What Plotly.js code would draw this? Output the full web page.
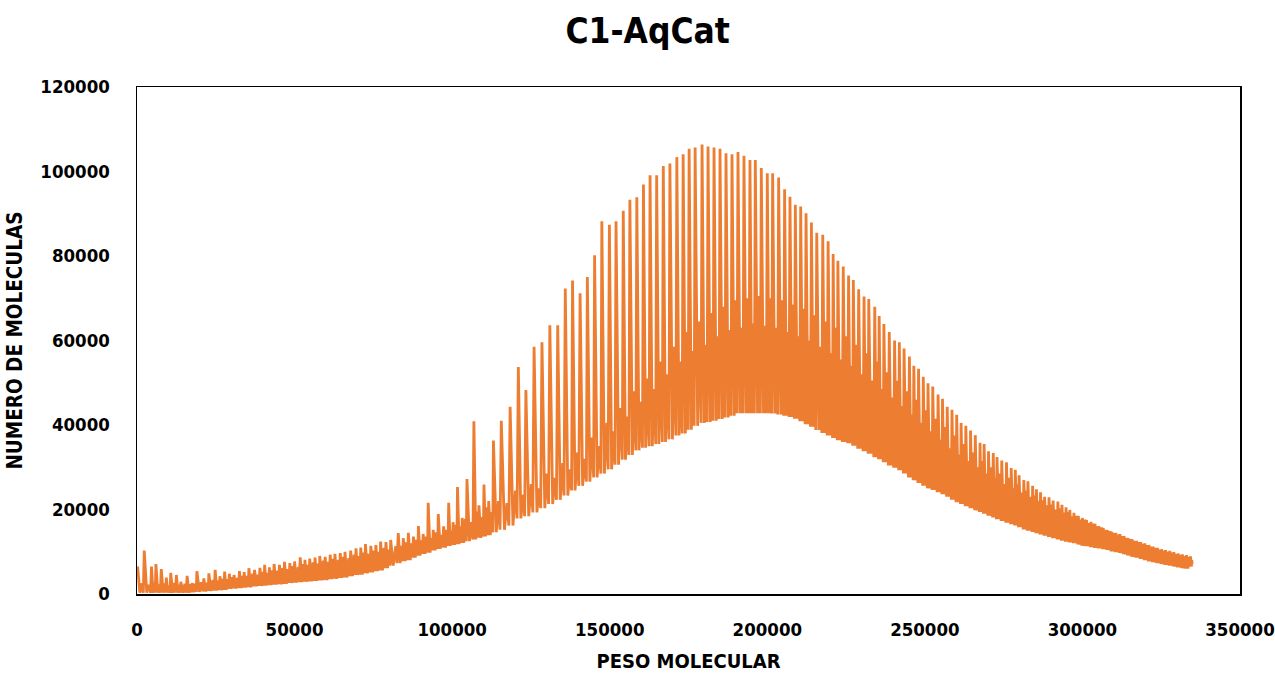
<!DOCTYPE html>
<html>
<head>
<meta charset="utf-8">
<script src="https://cdn.plot.ly/plotly-3.0.1.min.js"></script>
<style>html,body{margin:0;padding:0;background:#fff;}#chart{width:1275px;height:673px;}</style>
</head>
<body>
<div id="chart"></div>
<script>
const chartTitle = "C1-AqCat";
const xTitle = "PESO MOLECULAR";
const yTitle = "NUMERO DE MOLECULAS";
const xTicks = [0, 50000, 100000, 150000, 200000, 250000, 300000, 350000];
const yTicks = [0, 20000, 40000, 60000, 80000, 100000, 120000];

// Tops of the spikes
const peakX = [200,2300,4600,6000,7700,9300,10700,12500,13900,15900,
17500,19000,21200,22800,24800,26300,27800,29300,30800,32500,
34000,35500,37300,39000,40500,42000,43500,45200,46800,48500,
50000,51800,53300,54800,56500,58000,59700,61300,62800,64500,
66000,67800,69500,71000,72500,74200,75800,77300,79000,80500,
82900,84500,86100,87700,89300,90800,92400,94000,95600,97300,
98900,100300,101700,103200,104700,106900,108500,110100,111600,113100,
115600,118400,121000,123400,126000,128500,131000,133500,135900,138200,
140600,142900,145200,147500,149900,152000,154300,156400,158600,160700,
162800,164900,167000,169100,171300,173300,175200,177100,179300,181200,
183100,185000,186900,188800,190700,192600,194500,196200,198100,200000,
201700,203600,205500,207200,208900,210600,212300,214000,215700,217600,
219300,220900,222400,224100,225800,227300,229000,230700,232200,234100,
235500,237000,238700,240400,241900,243400,245100,246500,248000,249500,
251000,252500,254200,255600,257100,258600,260100,261500,263000,264500,
266000,267500,268800,270200,271700,272900,274400,275900,277400,278700,
279900,281400,282700,284200,285400,286700,288000,289400,290700,292200,
293500,294800,296000,297300,298700,300000,301300,302700,304000,305200,
306600,307900,309300,310600,311900,313200,314500,315800,317200,318500,
319800,321100,322400,323800,325100,326400,327700,329000,330400,331700,
333000,334300];
const peakY = [6500,10300,6500,7100,5900,3900,5000,4500,2900,4300,
2600,5400,3700,4900,5700,4200,5300,4800,4500,5400,
5200,6100,5700,6200,6900,6300,7100,6900,7600,7300,
7700,8700,8100,8400,8600,9000,8800,9300,9500,9700,
10000,10300,10800,11000,11800,11400,11600,12400,12300,12800,
14400,13200,14500,13600,16100,14200,21600,15200,18900,16000,
21600,17000,25300,18000,27200,40900,21000,25900,22000,36300,
41000,44300,53700,48300,58500,59600,63600,63600,72300,74200,
71200,75000,80200,88200,87400,88200,90700,93300,93900,96900,
99100,99100,101300,101900,103400,104100,105400,105700,106400,105900,
105700,105400,104300,104100,104600,103700,102700,102700,100800,99600,
99600,98600,95800,94000,92100,91700,90100,87900,85500,85000,
83500,80500,78900,77500,75400,74300,72100,70400,69800,68000,
65800,63900,62000,60000,59600,58100,56200,54000,53300,51400,
49900,49100,47200,46200,44300,43600,42400,40500,39800,38700,
37600,35800,35500,33800,33400,32400,31600,31200,29800,29400,
28100,27000,26700,25600,24800,24100,23000,22900,22100,21900,
21100,20500,19900,19200,18500,18000,17500,17100,16600,16100,
15600,15100,14700,14500,14200,13700,13200,12900,12600,12300,
12000,11600,11200,10900,10600,10400,10200,9900,9600,9400,
9200,8900];

// Troughs right after each spike
const valleyX = [900,3100,5100,6600,8300,9800,11300,13000,14600,16500,
18000,19800,21800,23500,25300,26800,28300,29800,31400,33000,
34500,36100,37900,39500,41000,42500,44100,45800,47400,49000,
50600,52300,53800,55400,57000,58600,60300,61800,63400,65000,
66600,68400,70000,71500,73100,74800,76300,77900,79500,81300,
83500,85100,86700,88300,89800,91400,93000,94600,96200,97900,
99400,100800,102200,103700,105500,107500,109100,110600,112100,114000,
116600,119300,121800,124300,126900,129400,131900,134300,136700,139000,
141400,143700,146000,148300,150600,152800,155000,157200,159300,161400,
163500,165600,167700,169900,172000,174000,175900,177900,180000,181900,
183800,185700,187600,189500,191400,193300,195100,196900,198800,200600,
202400,204300,206100,207800,209500,211200,212900,214600,216400,218200,
219900,221400,223000,224700,226300,227900,229600,231200,232900,234600,
236000,237600,239300,240900,242400,244000,245600,247000,248500,250000,
251500,253100,254700,256100,257600,259100,260600,262000,263500,265000,
266500,267900,269300,270700,272100,273400,274900,276400,277900,279100,
280400,281900,283200,284600,285900,287200,288500,289900,291200,292700,
294000,295200,296500,297800,299200,300500,301800,303200,304400,305700,
307100,308400,309800,311100,312400,313700,315000,316300,317700,319000,
320300,321600,322900,324300,325600,326900,328200,329500,330900,332200,
333500,334600];
const valleyY = [300,300,300,300,300,300,300,300,300,300,
400,500,600,700,800,900,1000,1200,1300,1400,
1500,1600,1800,1900,2000,2100,2200,2300,2400,2600,
2700,2800,2900,3000,3100,3200,3300,3500,3600,3800,
3900,4200,4500,4600,4900,5100,5400,5600,6100,6700,
7300,7800,8000,8600,9100,9500,9800,10300,10700,11000,
11400,11600,11800,12100,12500,12900,13300,13600,13900,14600,
15200,16200,17900,18400,19300,20300,21300,22300,23300,24500,
25600,26600,27600,28500,29500,30600,31800,32900,34000,34600,
35000,35500,36000,36600,37500,38000,38900,39800,40500,40700,
41000,41400,41800,42200,42800,42800,42800,42800,42800,42800,
42700,42500,42200,41900,41500,40900,40200,39600,38800,38100,
37500,36900,36400,36000,35700,35100,34400,33800,33200,32400,
31900,31200,30400,29900,29300,28500,27600,26900,26300,25600,
25000,24600,24100,23600,23000,22300,21700,21300,20800,20300,
19800,19400,19000,18500,18100,17700,17300,16900,16500,16200,
15800,15300,15000,14700,14400,14100,13800,13500,13200,12900,
12600,12400,12200,12000,11700,11400,11300,11100,10900,10800,
10600,10400,10100,9900,9700,9400,9100,8800,8600,8300,
8000,7700,7500,7300,7100,6900,6700,6500,6300,6100,
6000,6500];

// Secondary (smaller) spikes between the main ones
const midX = [1600,3800,5500,7100,8800,10200,11900,13400,15200,17000,
18500,20400,22200,24100,25800,27300,28800,30300,31900,33500,
35000,36700,38400,40000,41500,43000,44600,46200,47900,49500,
51200,52800,54300,55900,57500,59100,60700,62300,63900,65500,
67200,68900,70500,72000,73600,75200,76800,78400,80000,82100,
84000,85500,87200,88700,90300,91800,93400,95000,96700,98300,
99800,101200,102700,104200,106100,108000,109500,111100,112600,114700,
117400,120100,122600,125100,127600,130100,132600,135100,137400,139800,
142100,144400,146700,149100,151300,153500,155700,157800,160000,162100,
164200,166300,168400,170500,172600,174500,176400,178500,180500,182400,
184300,186200,188100,190000,191900,193800,195600,197400,199300,201100,
202900,204800,206600,208300,210000,211700,213400,215100,216900,218700,
220300,221900,223500,225200,226800,228400,230100,231700,233400,235000,
236500,238100,239800,241400,242900,244500,246000,247500,249000,250500,
252000,253600,255100,256600,258100,259600,261000,262500,264000,265500,
267000,268400,269700,271200,272500,273900,275400,276900,278300,279500,
280900,282300,283700,285000,286300,287600,289000,290300,291700,293100,
294400,295600,296900,298200,299600,300900,302200,303600,304800,306100,
307500,308800,310200,311500,312800,314100,315400,316700,318100,319400,
320700,322000,323300,324700,326000,327300,328600,329900,331300,332600,
333900,334700];
const midY = [2500,2200,2600,2300,2500,2000,2600,2200,2400,2300,
2400,2800,2700,3300,3200,3600,3500,4000,3800,4300,
4300,4800,4600,5200,5000,5600,5500,6100,5900,6600,
6400,7100,6900,7500,7200,7900,7600,8300,8100,8800,
8500,9300,9000,9800,9500,10300,10000,10900,10500,11300,
11400,12200,12000,12800,12700,13600,13200,14600,14000,15200,
15000,16400,16000,17800,17000,19500,18200,20500,19400,22000,
21500,24500,23500,26000,25000,28500,27500,31000,29500,33500,
32000,37000,35000,40500,38500,44000,42000,48000,45500,51000,
48500,55000,52000,58500,55000,62000,57500,64500,59000,66500,
61000,68000,62500,69500,63000,70000,64000,70500,63500,70000,
63000,69500,62000,68500,61000,67500,60000,66000,58500,64500,
57000,63000,55500,61000,54000,59000,52000,57000,50500,55000,
48500,52500,46500,50500,44500,48000,42500,46000,40500,43500,
38500,41500,36500,39500,34500,37500,33000,35500,31500,33500,
30000,31500,28500,30000,27500,28500,26000,27500,25000,26000,
24000,24500,23000,23300,22000,22200,21000,21200,20000,20300,
19300,19400,18400,18500,17600,17600,16800,16700,16000,15800,
15200,14900,14400,14100,13700,13300,13000,12600,12300,11900,
11600,11200,10900,10500,10300,10000,9800,9500,9300,9000,
8800,8000];

// Troughs just before the next spike
const valley2X = [2000,4300,5800,7400,9100,10500,12200,13700,15600,17300,
18800,20900,22600,24500,26100,27600,29100,30600,32200,33800,
35300,37000,38700,40300,41800,43300,44900,46600,48200,49800,
51500,53100,54600,56200,57800,59400,61000,62600,64200,65800,
67500,69200,70800,72300,73900,75600,77100,78700,80300,82500,
84300,85900,87500,89100,90600,92200,93800,95400,97000,98700,
100100,101500,103000,104500,106600,108300,109900,111400,112900,115200,
118000,120600,123000,125600,128100,130600,133100,135500,137900,140200,
142600,144900,147200,149500,151700,154000,156100,158300,160400,162500,
164600,166700,168800,171000,173000,174900,176800,179000,180900,182800,
184700,186600,188500,190400,192300,194200,195900,197800,199700,201400,
203300,205200,206900,208600,210300,212000,213700,215400,217300,219000,
220700,222200,223800,225500,227100,228700,230400,232000,233800,235300,
236800,238400,240100,241700,243200,244800,246300,247800,249300,250800,
252300,253900,255400,256900,258400,259900,261300,262800,264300,265800,
267300,268600,270000,271500,272700,274200,275700,277200,278500,279700,
281200,282500,284000,285200,286500,287800,289200,290500,292000,293300,
294600,295800,297100,298500,299800,301100,302500,303800,305000,306400,
307700,309100,310400,311700,313000,314300,315600,317000,318300,319600,
320900,322200,323600,324900,326200,327500,328800,330200,331500,332800,
334100,334800];
const valley2Y = [300,300,300,300,300,300,300,300,300,400,
500,600,700,800,900,1000,1200,1300,1400,1500,
1600,1800,1900,2000,2100,2200,2300,2400,2600,2700,
2800,2900,3000,3100,3200,3300,3500,3600,3800,3900,
4200,4500,4600,4900,5100,5400,5600,6100,6700,7300,
7800,8000,8600,9100,9500,9800,10300,10700,11000,11400,
11600,11800,12100,12500,12900,13300,13600,13900,14600,15200,
16200,17900,18400,19300,20300,21300,22300,23300,24500,25600,
26600,27600,28500,29500,30600,31800,32900,34000,34600,35000,
35500,36000,36600,37500,38000,38900,39800,40500,40700,41000,
41400,41800,42200,42800,42800,42800,42800,42800,42800,42700,
42500,42200,41900,41500,40900,40200,39600,38800,38100,37500,
36900,36400,36000,35700,35100,34400,33800,33200,32400,31900,
31200,30400,29900,29300,28500,27600,26900,26300,25600,25000,
24600,24100,23600,23000,22300,21700,21300,20800,20300,19800,
19400,19000,18500,18100,17700,17300,16900,16500,16200,15800,
15300,15000,14700,14400,14100,13800,13500,13200,12900,12600,
12400,12200,12000,11700,11400,11300,11100,10900,10800,10600,
10400,10100,9900,9700,9400,9100,8800,8600,8300,8000,
7700,7500,7300,7100,6900,6700,6500,6300,6100,6000,
6500,7000];

const xs = [], ys = [];
for (let i = 0; i < peakX.length; i++) {
  xs.push(peakX[i], valleyX[i], midX[i], valley2X[i]);
  ys.push(peakY[i], valleyY[i], midY[i], valley2Y[i]);
}

const FONT = "'DejaVu Sans Condensed', 'DejaVu Sans', sans-serif";
const trace = {
  x: xs, y: ys, type: 'scatter', mode: 'lines',
  line: {color: '#ED7D31', width: 2.8},
  hoverinfo: 'skip', showlegend: false
};
const axisCommon = {
  showline: true, mirror: true, linecolor: '#000', linewidth: 1.5,
  showgrid: false, zeroline: false, ticks: '',
  tickformat: 'd', tickmode: 'array',
  tickfont: {family: FONT, size: 18.5, color: '#000', weight: 'bold'}
};
const layout = {
  width: 1275, height: 673,
  paper_bgcolor: '#fff', plot_bgcolor: '#fff',
  margin: {l: 137, r: 35, t: 87, b: 79},
  title: {text: chartTitle, x: 0.508, xref: 'container', xanchor: 'center',
          y: 0.955, yref: 'container', yanchor: 'middle',
          font: {family: FONT, size: 35, color: '#000', weight: 'bold'}},
  xaxis: Object.assign({}, axisCommon, {
    range: [0, 350000], tickvals: xTicks, ticklabelstandoff: 18,
    title: {text: xTitle, standoff: 16, font: {family: FONT, size: 20, color: '#000', weight: 'bold'}}
  }),
  yaxis: Object.assign({}, axisCommon, {
    range: [0, 120000], tickvals: yTicks, ticklabelstandoff: 22,
    title: {text: yTitle, standoff: 12, font: {family: FONT, size: 20.5, color: '#000', weight: 'bold'}}
  })
};
Plotly.newPlot('chart', [trace], layout, {staticPlot: true, displayModeBar: false});
</script>
</body>
</html>
